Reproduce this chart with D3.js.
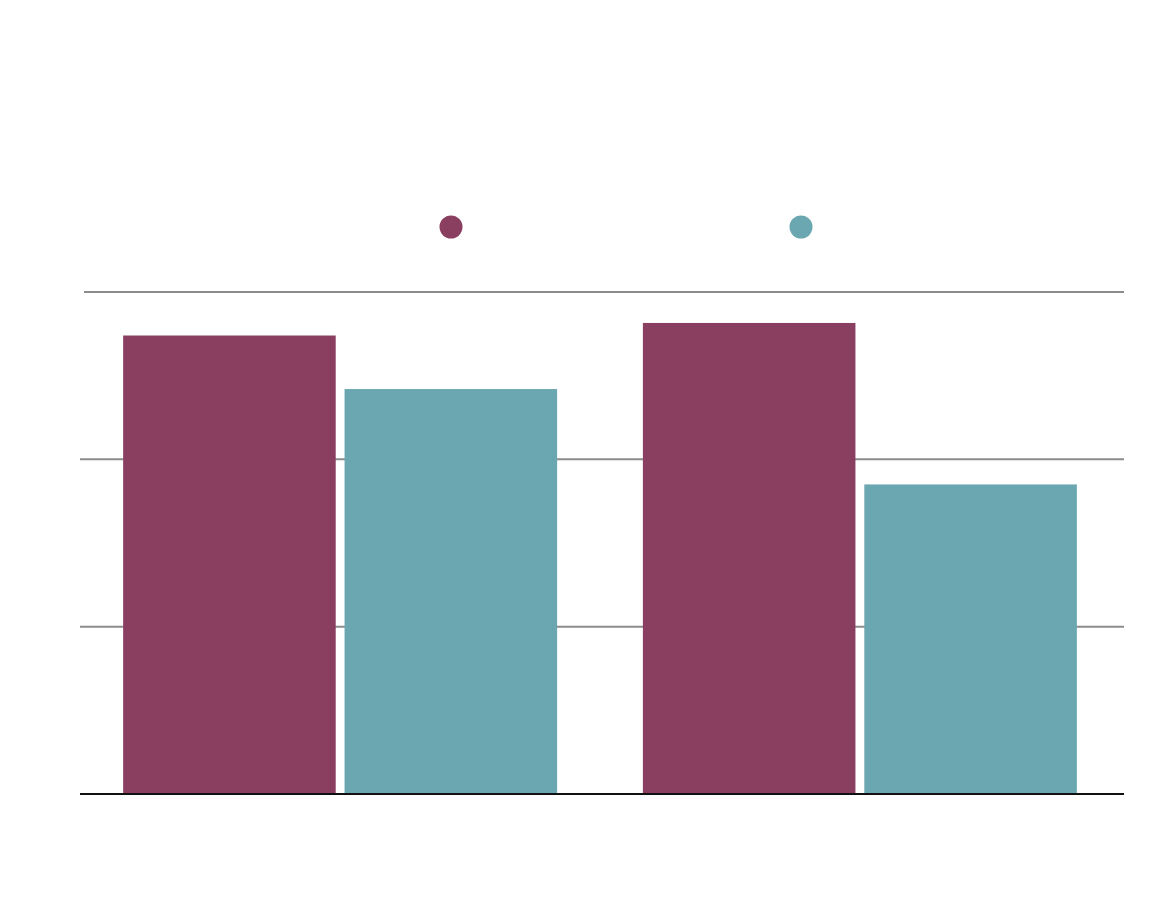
<!DOCTYPE html>
<html>
<head>
<meta charset="utf-8">
<script src="https://cdn.jsdelivr.net/npm/d3@7"></script>
<style>
  body { margin: 0; background: #fff; }
</style>
</head>
<body>
<div id="chart"></div>
<script>
var categories = ["A", "B"];
var seriesKeys = ["s1", "s2"];
var series1 = [27.4, 28.15];
var series2 = [24.2, 18.5];
var yTicks = [0, 10, 20, 30];
var colors = ["#8a3f61", "#6ba7b1"];

var width = 1160,
    height = 916;

var margin = { left: 80, right: 36, top: 292, bottom: 122 };

var svg = d3.select("#chart")
    .append("svg")
    .attr("width", width)
    .attr("height", height);

var rows = categories.map(function(c, i) {
    return { cat: c, values: [series1[i], series2[i]] };
});

// bands sit slightly left of centre, so the band range stops short of the grid end
var x0 = d3.scaleBand()
    .domain(categories)
    .range([margin.left, width - margin.right - 4])
    .paddingInner(0.165)
    .paddingOuter(0.083);

var x1 = d3.scaleBand()
    .domain(seriesKeys)
    .range([0, x0.bandwidth()])
    .paddingInner(0.04);

var y = d3.scaleLinear()
    .domain([0, 30])
    .range([height - margin.bottom, margin.top]);

// gridlines
svg.append("g")
    .selectAll("line")
    .data(yTicks.filter(function(d) { return d > 0; }))
    .enter().append("line")
    .attr("x1", function(d) { return d === 30 ? margin.left + 4 : margin.left; })
    .attr("x2", width - margin.right)
    .attr("y1", function(d) { return y(d); })
    .attr("y2", function(d) { return y(d); })
    .attr("stroke", "#8c8c8c")
    .attr("stroke-width", 2);

// bars
var groups = svg.selectAll(".group")
    .data(rows)
    .enter().append("g")
    .attr("class", "group")
    .attr("transform", function(d) { return "translate(" + x0(d.cat) + ",0)"; });

groups.selectAll("rect")
    .data(function(d) {
        return d.values.map(function(v, i) { return { key: seriesKeys[i], value: v, i: i }; });
    })
    .enter().append("rect")
    .attr("x", function(d) { return x1(d.key); })
    .attr("y", function(d) { return y(d.value); })
    .attr("width", x1.bandwidth())
    .attr("height", function(d) { return y(0) - y(d.value); })
    .attr("fill", function(d) { return colors[d.i]; });

// baseline
svg.append("line")
    .attr("x1", margin.left)
    .attr("x2", width - margin.right)
    .attr("y1", y(0))
    .attr("y2", y(0))
    .attr("stroke", "#111")
    .attr("stroke-width", 2);

// legend
var legendX = [451, 801];
svg.selectAll(".legend-dot")
    .data(seriesKeys)
    .enter().append("circle")
    .attr("class", "legend-dot")
    .attr("cx", function(d, i) { return legendX[i]; })
    .attr("cy", 227)
    .attr("r", 11.5)
    .attr("fill", function(d, i) { return colors[i]; });
</script>
</body>
</html>
